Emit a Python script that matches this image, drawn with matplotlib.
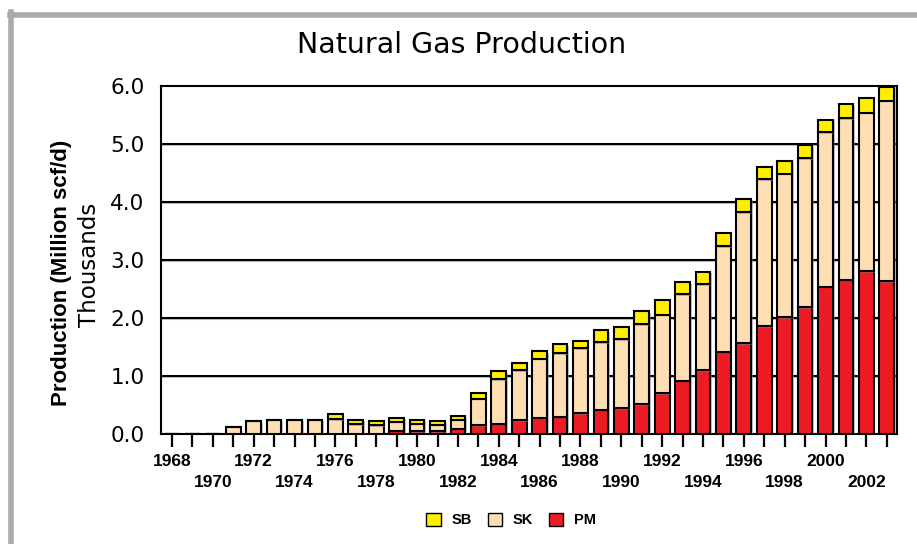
import numpy as np
import matplotlib
matplotlib.use("Agg")
import matplotlib.pyplot as plt
import matplotlib.patheffects as pe
from matplotlib.patches import Patch

# data (thousand million scf/d)
years = list(range(1968, 2004))
pm = [0, 0, 0, 0, 0, 0, 0, 0, 0, 0, 0,
      0.06, 0.05, 0.05, 0.09, 0.15, 0.18, 0.24, 0.28, 0.30, 0.36,
      0.42, 0.45, 0.52, 0.70, 0.92, 1.10, 1.42, 1.57, 1.86, 2.01,
      2.19, 2.54, 2.66, 2.81, 2.63]
sk = [0, 0, 0, 0.12, 0.22, 0.25, 0.25, 0.25, 0.26, 0.17, 0.155,
      0.15, 0.13, 0.11, 0.16, 0.46, 0.77, 0.86, 1.02, 1.09, 1.12,
      1.16, 1.19, 1.37, 1.36, 1.49, 1.48, 1.82, 2.26, 2.53, 2.48,
      2.57, 2.66, 2.78, 2.73, 3.12]
sb = [0, 0, 0, 0, 0, 0, 0, 0, 0.08, 0.08, 0.065,
      0.07, 0.07, 0.06, 0.06, 0.09, 0.13, 0.13, 0.13, 0.16, 0.12,
      0.21, 0.21, 0.23, 0.25, 0.21, 0.22, 0.23, 0.23, 0.22, 0.22,
      0.22, 0.22, 0.25, 0.25, 0.24]
yticks = [0, 1, 2, 3, 4, 5, 6]

c_pm = "#ED1C24"
c_sk = "#FDDFB3"
c_sb = "#FFEE00"

fig = plt.figure(figsize=(9.17, 5.44), dpi=100)
ax = fig.add_axes([161/917, 1 - 434/544, (897-161)/917, (434-86)/544])

x = np.array(years)
pm = np.array(pm)
sk = np.array(sk)
sb = np.array(sb)

shadow = [pe.SimplePatchShadow(offset=(1.2, -1.2), shadow_rgbFace="#888888", alpha=0.5), pe.Normal()]
w = 0.72
ax.bar(x, pm, w, color=c_pm, edgecolor="black", linewidth=1.5, zorder=3, path_effects=shadow)
ax.bar(x, sk, w, bottom=pm, color=c_sk, edgecolor="black", linewidth=1.5, zorder=3, path_effects=shadow)
ax.bar(x, sb, w, bottom=pm + sk, color=c_sb, edgecolor="black", linewidth=1.5, zorder=3, path_effects=shadow)

# gridlines
gshadow = [pe.SimpleLineShadow(offset=(1, -1), shadow_color="#999999", alpha=0.6), pe.Normal()]
for v in yticks[1:-1]:
    ax.axhline(v, color="black", linewidth=1.5, zorder=1, path_effects=gshadow)

ax.set_xlim(1967.46, 2003.5)
ax.set_ylim(0, 6.0)
ax.set_yticks(yticks)
ax.set_yticklabels(["%.1f" % v for v in yticks], fontsize=15.5)
ax.tick_params(axis="y", length=0, pad=12)
ax.set_xticks(years)
ax.set_xticklabels([])
ax.tick_params(axis="x", length=9, width=1.6, direction="out")
for s in ax.spines.values():
    s.set_linewidth(1.5)

# two-row year labels
for yr in years:
    if yr % 2 == 1:
        continue
    yoff = -0.08 if yr % 4 == 0 else -0.138
    ax.text(yr, yoff, str(yr), transform=ax.get_xaxis_transform(), ha="center", va="center",
            fontsize=12.5, fontweight="bold", family="Liberation Sans")

fig.text(462/917, 1 - 45/544, "Natural Gas Production", ha="center", va="center", fontsize=20.5)
fig.text(62/917, 1 - 273/544, "Production (Million scf/d)", rotation=90, ha="center", va="center",
         fontsize=16, fontweight="bold", family="Liberation Sans")
fig.text(89/917, 1 - 265/544, "Thousands", rotation=90, ha="center", va="center", fontsize=16.5)

handles = [Patch(facecolor=c_sb, edgecolor="black", label="SB"),
           Patch(facecolor=c_sk, edgecolor="black", label="SK"),
           Patch(facecolor=c_pm, edgecolor="black", label="PM")]
fig.legend(handles=handles, loc="center", bbox_to_anchor=(511/917, 1 - 520/544), ncol=3, frameon=False,
           handlelength=1.0, handleheight=1.0, handletextpad=0.7, columnspacing=1.1,
           prop={"family": "Liberation Sans", "weight": "bold", "size": 10.5})

# grey frame lines at top and left of the picture
fig.add_artist(plt.Line2D([10/917, 1], [1 - 14.5/544, 1 - 14.5/544], color="#AAAAAE", linewidth=4))
fig.add_artist(plt.Line2D([10.5/917, 10.5/917], [0, 1 - 12/544], color="#AAAAAE", linewidth=4))

fig.savefig("out.png", dpi=100)
